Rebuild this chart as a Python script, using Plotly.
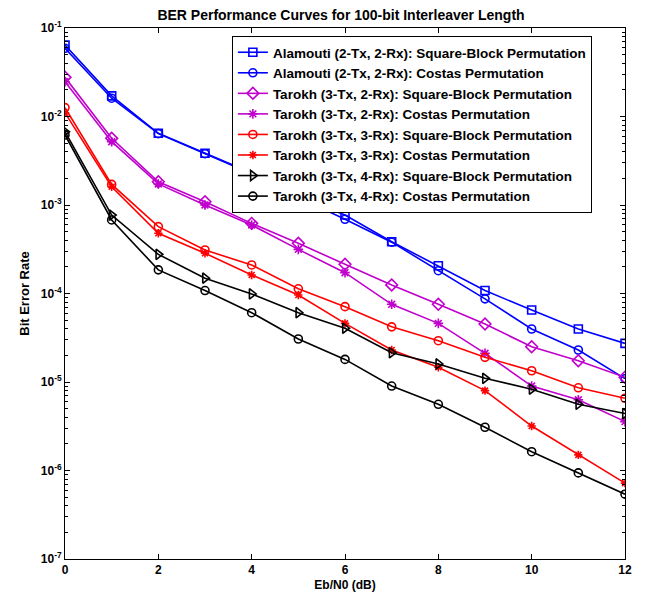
import plotly.graph_objects as go

ebn0 = list(range(0, 13))

alamouti_sb = [0.0643, 0.0171, 0.00646, 0.00384, 0.0023, 0.00125, 7.7e-4, 3.85e-4, 2.06e-4, 1.08e-4, 6.5e-5, 3.97e-5, 2.73e-5]
alamouti_costas = [0.059, 0.0161, 0.0064, 0.0038, 0.00225, 0.00122, 6.9e-4, 3.8e-4, 1.81e-4, 8.7e-5, 3.97e-5, 2.3e-5, 1.09e-5]
tarokh32_sb = [0.0277, 0.00567, 0.00183, 0.00109, 6.2e-4, 3.69e-4, 2.14e-4, 1.25e-4, 7.55e-5, 4.52e-5, 2.5e-5, 1.74e-5, 1.13e-5]
tarokh32_costas = [0.0247, 0.00519, 0.00173, 0.00100, 5.94e-4, 3.15e-4, 1.72e-4, 7.55e-5, 4.6e-5, 2.11e-5, 9.0e-6, 6.3e-6, 3.57e-6]
tarokh33_sb = [0.0126, 0.00171, 5.69e-4, 3.1e-4, 2.1e-4, 1.13e-4, 7.1e-5, 4.2e-5, 2.93e-5, 1.9e-5, 1.34e-5, 8.6e-6, 6.55e-6]
tarokh33_costas = [0.0110, 0.00161, 4.79e-4, 2.85e-4, 1.62e-4, 9.6e-5, 4.6e-5, 2.3e-5, 1.47e-5, 8.0e-6, 3.18e-6, 1.5e-6, 7.2e-7]
tarokh34_sb = [0.00673, 7.7e-4, 2.77e-4, 1.49e-4, 9.9e-5, 6.07e-5, 4.05e-5, 2.14e-5, 1.6e-5, 1.1e-5, 8.3e-6, 5.6e-6, 4.4e-6]
tarokh34_costas = [0.00618, 6.78e-4, 1.85e-4, 1.08e-4, 6.07e-5, 3.06e-5, 1.8e-5, 9.0e-6, 5.6e-6, 3.08e-6, 1.63e-6, 9.4e-7, 5.4e-7]

series_names = [
    "Alamouti (2-Tx, 2-Rx): Square-Block Permutation",
    "Alamouti (2-Tx, 2-Rx): Costas Permutation",
    "Tarokh (3-Tx, 2-Rx): Square-Block Permutation",
    "Tarokh (3-Tx, 2-Rx): Costas Permutation",
    "Tarokh (3-Tx, 3-Rx): Square-Block Permutation",
    "Tarokh (3-Tx, 3-Rx): Costas Permutation",
    "Tarokh (3-Tx, 4-Rx): Square-Block Permutation",
    "Tarokh (3-Tx, 4-Rx): Costas Permutation",
]
series_values = [alamouti_sb, alamouti_costas, tarokh32_sb, tarokh32_costas,
                 tarokh33_sb, tarokh33_costas, tarokh34_sb, tarokh34_costas]

y_tick_vals = [1e-7, 1e-6, 1e-5, 1e-4, 1e-3, 1e-2, 1e-1]
y_tick_text = ["10<sup>-7</sup>", "10<sup>-6</sup>", "10<sup>-5</sup>", "10<sup>-4</sup>",
               "10<sup>-3</sup>", "10<sup>-2</sup>", "10<sup>-1</sup>"]
x_tick_vals = [0, 2, 4, 6, 8, 10, 12]

blue = "#0000FF"
mag = "#C000CC"
red = "#FF0000"
blk = "#000000"
styles = [
    (blue, "square-open", 8),
    (blue, "circle-open", 8),
    (mag, "diamond-open", 9),
    (mag, "asterisk-open", 8),
    (red, "circle-open", 8),
    (red, "asterisk-open", 7),
    (blk, "triangle-right-open", 9),
    (blk, "circle-open", 8),
]

fig = go.Figure()
for name, vals, (col, sym, sz) in zip(series_names, series_values, styles):
    fig.add_trace(go.Scatter(
        x=ebn0, y=vals, name=f"<b>{name}</b>", mode="lines+markers",
        line=dict(color=col, width=1.6),
        marker=dict(symbol=sym, size=sz, color=col, line=dict(color=col, width=1.6)),
    ))

font_family = "Liberation Sans, Arial, sans-serif"
fig.update_layout(
    width=650, height=599,
    margin=dict(l=57, r=33, t=20, b=48),
    paper_bgcolor="white", plot_bgcolor="white",
    font=dict(family=font_family, size=12, color="black"),
    title=dict(text="<b>BER Performance Curves for 100-bit Interleaver Length</b>",
               x=333 / 650, xanchor="center", y=1 - 2 / 599, yanchor="top",
               pad=dict(t=0, b=0),
               font=dict(size=14, family=font_family)),
    showlegend=True,
    legend=dict(x=0.298, y=0.985, xanchor="left", yanchor="top",
                bgcolor="white", bordercolor="black", borderwidth=1,
                font=dict(size=13.5, family=font_family), tracegroupgap=0),
)
fig.update_xaxes(
    range=[0, 12], tickvals=x_tick_vals, ticktext=[f"<b>{v}</b>" for v in x_tick_vals],
    ticks="inside", ticklen=5, tickcolor="black", showline=True, linecolor="black",
    linewidth=1, mirror="ticks", showgrid=False, zeroline=False, automargin=False,
    title=dict(text="<b>Eb/N0 (dB)</b>", standoff=4, font=dict(size=12)),
    tickfont=dict(size=12),
)
fig.update_yaxes(
    type="log", range=[-7, -1], tickvals=y_tick_vals, ticktext=[f"<b>{t}</b>" for t in y_tick_text],
    ticks="inside", ticklen=5, tickcolor="black", showline=True, linecolor="black",
    linewidth=1, mirror="ticks", showgrid=False, zeroline=False, automargin=False,
    minor=dict(ticks="inside", ticklen=3, tickcolor="black", showgrid=False, dtick="D1"),
    title=dict(text="<b>Bit Error Rate</b>", standoff=8, font=dict(size=13)),
    tickfont=dict(size=12),
)

fig.write_html("out.html")
